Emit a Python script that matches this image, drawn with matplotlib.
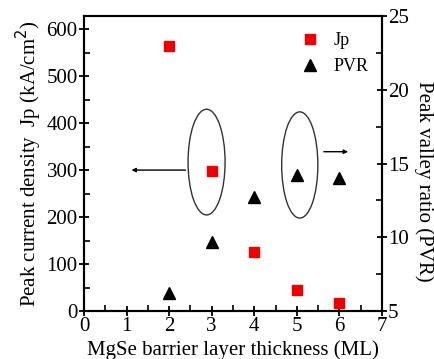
import matplotlib.pyplot as plt
from matplotlib.patches import Ellipse
from matplotlib.ticker import MultipleLocator

# data
thickness = [2, 3, 4, 5, 6]
jp = [564, 298, 125, 45, 16]
pvr = [6.2, 9.7, 12.7, 14.2, 14.0]

plt.rcParams['font.family'] = ['Liberation Serif', 'DejaVu Serif']

fig = plt.figure(figsize=(4.34, 3.59), dpi=100)
ax = fig.add_axes([0.1935, 0.1337, 0.6865, 0.8217])
ax2 = ax.twinx()

ax.plot(thickness, jp, 's', color='#ee0000', ms=7, label='Jp', zorder=3)
ax2.plot(thickness, pvr, '^', color='black', ms=9, label='PVR', zorder=3)

ax.set_xlim(0, 7)
ax.set_ylim(0, 628)
ax2.set_ylim(5, 25)

ax.xaxis.set_major_locator(MultipleLocator(1))
ax.xaxis.set_minor_locator(MultipleLocator(0.5))
ax.yaxis.set_major_locator(MultipleLocator(100))
ax.yaxis.set_minor_locator(MultipleLocator(50))
ax2.yaxis.set_major_locator(MultipleLocator(5))
ax2.yaxis.set_minor_locator(MultipleLocator(2.5))

for a in (ax, ax2):
    for s in a.spines.values():
        s.set_linewidth(1.5)
ax.tick_params(which='major', direction='inout', length=7, width=1.3, labelsize=15, pad=1)
ax.tick_params(which='minor', direction='in', length=4, width=1.2)
ax2.tick_params(which='major', direction='inout', length=7, width=1.3, labelsize=15, pad=1)
ax2.tick_params(which='minor', direction='in', length=4, width=1.2)

ax.set_xlabel('MgSe barrier layer thickness (ML)', fontsize=15, labelpad=3)
ax.set_ylabel('Peak current density  Jp (kA/cm$^2$)', fontsize=15, labelpad=2)
ax2.set_ylabel('Peak valley ratio (PVR)', fontsize=15, rotation=270,
               va='center', ha='center')
ax2.yaxis.set_label_coords(1.14, 0.44)

# ellipses and arrows
ax.add_patch(Ellipse((2.88, 317), 0.87, 225, fill=False, lw=1, color='#333333'))
ax.annotate('', xy=(1.05, 300), xytext=(2.45, 300),
            arrowprops=dict(arrowstyle='-|>', color='black', lw=1, mutation_scale=6))
ax2.add_patch(Ellipse((5.07, 14.9), 0.85, 7.2, fill=False, lw=1, color='#333333'))
ax2.annotate('', xy=(6.27, 15.8), xytext=(5.57, 15.8),
             arrowprops=dict(arrowstyle='-|>', color='black', lw=1, mutation_scale=6))

h1, l1 = ax.get_legend_handles_labels()
h2, l2 = ax2.get_legend_handles_labels()
ax2.legend(h1 + h2, l1 + l2, loc='upper right', frameon=False, fontsize=13,
           handletextpad=0.3, borderaxespad=0, bbox_to_anchor=(0.98, 0.97))

fig.savefig('out.png', dpi=100)
